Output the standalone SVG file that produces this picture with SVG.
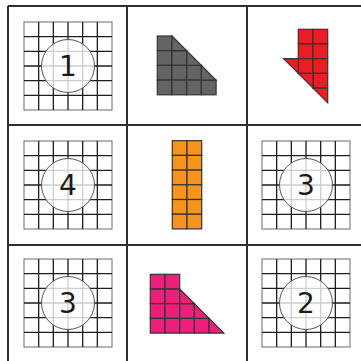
<svg xmlns="http://www.w3.org/2000/svg" xmlns:xlink="http://www.w3.org/1999/xlink" width="361" height="361" viewBox="0 0 361 361">
<style>
.frame{stroke:#2e2e2e;stroke-width:2;fill:none}
.gl{stroke:#1e1e1e;stroke-width:1.3;fill:none}
.gb{stroke:#6a6a6a;stroke-width:1;fill:none}
.disc{fill:#fff;fill-opacity:0.78;stroke:#555;stroke-width:1}
.num{font-family:"DejaVu Sans","Liberation Sans",sans-serif;font-size:28px;fill:#1a1a1a;text-anchor:middle}
.t{stroke:#333;stroke-width:1.2;stroke-linejoin:miter}
.gray{fill:#636466}
.red{fill:#ED1C24}
.orange{fill:#F7941D}
.pink{fill:#EC1F7A}
</style>
<defs>
<g id="grid">
<rect class="gb" x="0" y="0" width="88" height="88"/>
<path class="gl" d="M14.67,0V88M29.33,0V88M44,0V88M58.67,0V88M73.33,0V88M0,14.67H88M0,29.33H88M0,44H88M0,58.67H88M0,73.33H88"/>
<circle class="disc" cx="44" cy="44" r="26.5"/>
</g>
<rect id="sq" width="14.7" height="14.7"/>
</defs>
<g id="connectors">
<path class="frame" d="M8,6V361M127,6V361M247,6V361M8,6H361M8,125H361M8,245H361"/>
</g>
<g id="n1"><use xlink:href="#grid" x="24" y="22"/><text class="num" x="68" y="76">1</text></g>
<g id="n2" class="t gray">
<use xlink:href="#sq" x="157.3" y="36"/>
<use xlink:href="#sq" x="157.3" y="50.7"/><use xlink:href="#sq" x="172" y="50.7"/>
<use xlink:href="#sq" x="157.3" y="65.4"/><use xlink:href="#sq" x="172" y="65.4"/><use xlink:href="#sq" x="186.7" y="65.4"/>
<use xlink:href="#sq" x="157.3" y="80.1"/><use xlink:href="#sq" x="172" y="80.1"/><use xlink:href="#sq" x="186.7" y="80.1"/><use xlink:href="#sq" x="201.4" y="80.1"/>
<polygon points="172,36 186.7,50.7 172,50.7"/>
<polygon points="186.7,50.7 201.4,65.4 186.7,65.4"/>
<polygon points="201.4,65.4 216.1,80.1 201.4,80.1"/>
</g>
<g id="n3" class="t red">
<use xlink:href="#sq" x="298.3" y="29.3"/><use xlink:href="#sq" x="313" y="29.3"/>
<use xlink:href="#sq" x="298.3" y="44"/><use xlink:href="#sq" x="313" y="44"/>
<use xlink:href="#sq" x="298.3" y="58.7"/><use xlink:href="#sq" x="313" y="58.7"/>
<use xlink:href="#sq" x="313" y="73.4"/>
<polygon points="283.6,58.7 298.3,58.7 298.3,73.4"/>
<polygon points="298.3,73.4 313,73.4 313,88.1"/>
<polygon points="313,88.1 327.7,88.1 327.7,102.8"/>
</g>
<g id="n4"><use xlink:href="#grid" x="24" y="141"/><text class="num" x="68" y="195">4</text></g>
<g id="n5" class="t orange">
<use xlink:href="#sq" x="172.3" y="140.7"/><use xlink:href="#sq" x="187" y="140.7"/>
<use xlink:href="#sq" x="172.3" y="155.4"/><use xlink:href="#sq" x="187" y="155.4"/>
<use xlink:href="#sq" x="172.3" y="170.1"/><use xlink:href="#sq" x="187" y="170.1"/>
<use xlink:href="#sq" x="172.3" y="184.8"/><use xlink:href="#sq" x="187" y="184.8"/>
<use xlink:href="#sq" x="172.3" y="199.5"/><use xlink:href="#sq" x="187" y="199.5"/>
<use xlink:href="#sq" x="172.3" y="214.2"/><use xlink:href="#sq" x="187" y="214.2"/>
</g>
<g id="n6"><use xlink:href="#grid" x="262" y="141"/><text class="num" x="306" y="195">3</text></g>
<g id="n7"><use xlink:href="#grid" x="24" y="259"/><text class="num" x="68" y="313">3</text></g>
<g id="n8" class="t pink">
<use xlink:href="#sq" x="150.3" y="274.3"/><use xlink:href="#sq" x="165" y="274.3"/>
<use xlink:href="#sq" x="150.3" y="289"/><use xlink:href="#sq" x="165" y="289"/>
<use xlink:href="#sq" x="150.3" y="303.7"/><use xlink:href="#sq" x="165" y="303.7"/><use xlink:href="#sq" x="179.7" y="303.7"/>
<use xlink:href="#sq" x="150.3" y="318.4"/><use xlink:href="#sq" x="165" y="318.4"/><use xlink:href="#sq" x="179.7" y="318.4"/><use xlink:href="#sq" x="194.4" y="318.4"/>
<polygon points="179.7,289 194.4,303.7 179.7,303.7"/>
<polygon points="194.4,303.7 209.1,318.4 194.4,318.4"/>
<polygon points="209.1,318.4 223.8,333.1 209.1,333.1"/>
</g>
<g id="n9"><use xlink:href="#grid" x="262" y="259"/><text class="num" x="306" y="313">2</text></g>
</svg>
